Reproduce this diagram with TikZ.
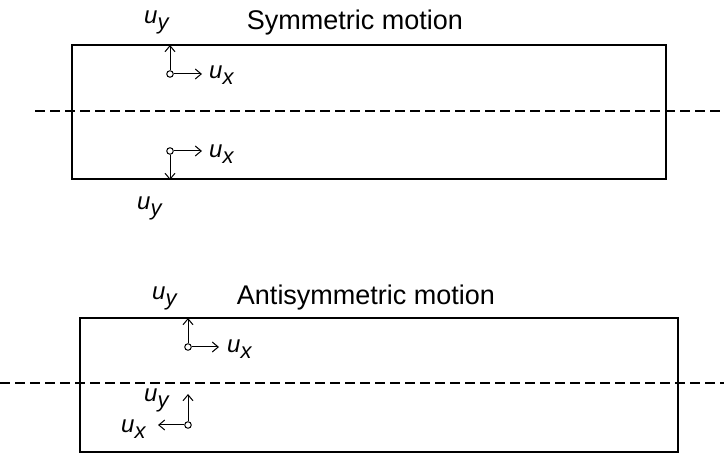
\documentclass[tikz,border=0pt]{standalone}
\usepackage{fontspec}
\setmainfont{Liberation Sans}
\usetikzlibrary{arrows.meta, positioning}

\newcommand{\udisp}[1]{\itshape u\raisebox{-6pt}{\fontsize{22}{22}\selectfont #1}}

\begin{document}
\begin{tikzpicture}[x=1pt, y=-1pt, >={Straight Barb[length=6pt, width=10pt]},
    plate/.style={draw, line width=1.8pt},
    midline/.style={draw, line width=1.3pt, dash pattern=on 10pt off 5pt},
    pt/.style={circle, draw, inner sep=0pt, minimum size=6.5pt, fill=white, line width=1pt},
    disp/.style={->, line width=1pt},
    ulabel/.style={font=\fontsize{24}{24}\selectfont, inner sep=0pt, anchor=base west},
    title/.style={font=\fontsize{27}{27}\selectfont, inner sep=0pt, anchor=base}]

    \useasboundingbox (0,0) rectangle (724,457);

    % symmetric case
    \draw[plate] (72,45) rectangle (666,179);
    \draw[midline] (35,111) -- (724,111);
    \node[title] (symt) at (355,30) {Symmetric motion};

    \node[pt] (s1) at (170,74) {};
    \coordinate (s1y) at (170,45);
    \coordinate (s1x) at (202,74);
    \draw[disp] (s1) -- (s1y);
    \draw[disp] (s1) -- (s1x);
    \node[ulabel] (s1ux) at (209,79) {\udisp{x}};
    \node[ulabel] (s1uy) at (144,24) {\udisp{y}};

    \node[pt] (s2) at (170,151) {};
    \coordinate (s2y) at (170,180);
    \coordinate (s2x) at (202,151);
    \draw[disp] (s2) -- (s2y);
    \draw[disp] (s2) -- (s2x);
    \node[ulabel] (s2ux) at (209,158) {\udisp{x}};
    \node[ulabel] (s2uy) at (137,210) {\udisp{y}};

    % antisymmetric case
    \draw[plate] (80,318) rectangle (678,452);
    \draw[midline] (0,383) -- (724,383);
    \node[title] (antt) at (366,305) {Antisymmetric motion};

    \node[pt] (a1) at (188,347) {};
    \coordinate (a1y) at (188,318);
    \coordinate (a1x) at (219,347);
    \draw[disp] (a1) -- (a1y);
    \draw[disp] (a1) -- (a1x);
    \node[ulabel] (a1ux) at (227,353) {\udisp{x}};
    \node[ulabel] (a1uy) at (152,300) {\udisp{y}};

    \node[pt] (a2) at (188,425) {};
    \coordinate (a2y) at (188,394);
    \coordinate (a2x) at (158,425);
    \draw[disp] (a2) -- (a2y);
    \draw[disp] (a2) -- (a2x);
    \node[ulabel] (a2ux) at (121,432) {\udisp{x}};
    \node[ulabel] (a2uy) at (144,402) {\udisp{y}};
\end{tikzpicture}
\end{document}
